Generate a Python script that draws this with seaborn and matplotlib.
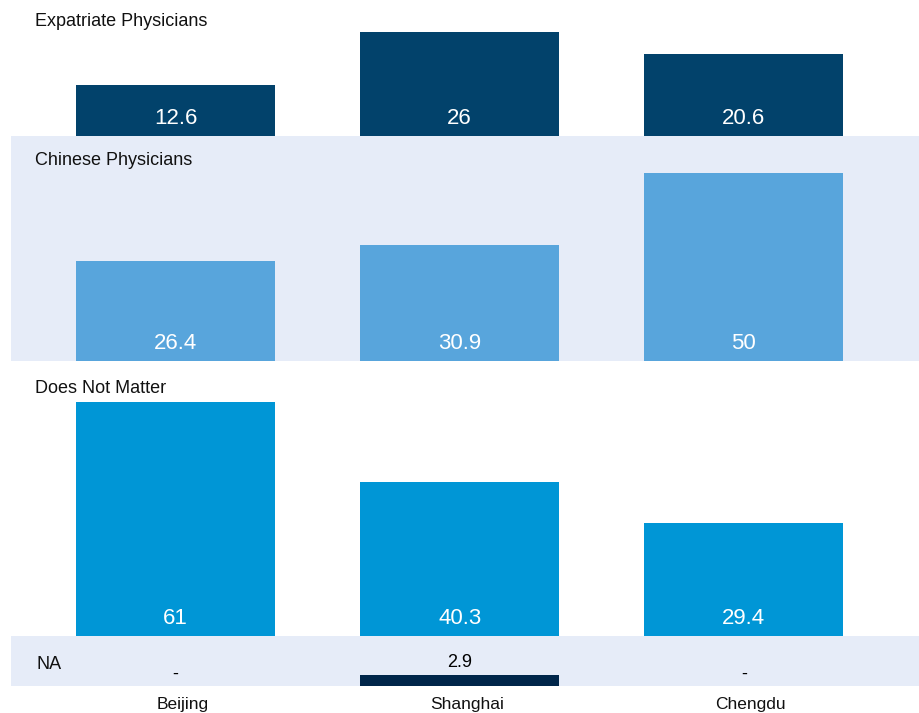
import matplotlib
matplotlib.use("Agg")
import matplotlib.pyplot as plt
import matplotlib.transforms as mtransforms
import seaborn as sns
import pandas as pd

sns.set_style("white")
plt.rcParams['font.family'] = ['Liberation Sans', 'DejaVu Sans']

# ---- data ----
cities = ["Beijing", "Shanghai", "Chengdu"]
row_titles = ["Expatriate Physicians", "Chinese Physicians", "Does Not Matter", "NA"]
expatriate = [12.6, 26, 20.6]
chinese = [26.4, 30.9, 50]
does_not_matter = [61, 40.3, 29.4]
na_values = [None, 2.9, None]

series = [expatriate, chinese, does_not_matter, na_values]
colors = ["#02426b", "#58a5dc", "#0096d6", "#00264a"]
bg_colors = ["white", "#e6ecf8", "white", "#e6ecf8"]

# layout in pixels (top, bottom) of each row panel
W, H = 919, 713
rows_px = [(0, 135.5), (135.5, 361), (361, 636), (636, 686)]
px_per_unit = [3.98, 3.77, 3.83, 3.8]
title_offsets = [13, 16, 19, 20]

fig = plt.figure(figsize=(W / 100, H / 100), dpi=100)

left_px = 11
for r, (vals, (top, bot)) in enumerate(zip(series, rows_px)):
    ax = fig.add_axes([left_px / W, 1 - bot / H, (W - left_px) / W, (bot - top) / H])
    ax.set_facecolor(bg_colors[r])
    plot_vals = [0 if v is None else v for v in vals]
    df = pd.DataFrame({"city": cities, "value": plot_vals})
    sns.barplot(data=df, x="city", y="value", ax=ax, color=colors[r],
                saturation=1, width=0.7, order=cities, linewidth=0, edgecolor="none")
    ax.set_xlim(-0.579, 2.616)
    ax.set_ylim(0, (bot - top) / px_per_unit[r])
    for s in ax.spines.values():
        s.set_visible(False)
    ax.set_ylabel("")
    ax.set_xlabel("")
    ax.set_yticks([])
    ax.tick_params(axis="x", length=0)

    # value labels
    for i, v in enumerate(vals):
        if r < 3:
            ax.annotate(f"{v:g}", xy=(i, 0), xytext=(0, 12 * 0.72),
                        textcoords="offset points", ha="center", va="baseline",
                        color="white", fontsize=16)
        else:
            lab = "-" if v is None else f"{v:g}"
            ax.annotate(lab, xy=(i, 0 if v is None else v), xytext=(0, 7.5 * 0.72),
                        textcoords="offset points", ha="center", va="baseline",
                        color="black", fontsize=13)

    # row title
    ax.annotate(row_titles[r], xy=(0, 1), xycoords="axes fraction",
                xytext=((35 - left_px) * 0.72 if r < 3 else (37 - left_px) * 0.72,
                        -title_offsets[r] * 0.72),
                textcoords="offset points", ha="left", va="top",
                fontsize=13, color="#111111")

    if r < 3:
        ax.set_xticklabels([])
    else:
        ax.tick_params(axis="x", pad=8, labelsize=12.5, labelcolor="#111111")
        offset = mtransforms.ScaledTranslation(7 / 100, 0, fig.dpi_scale_trans)
        for lbl in ax.get_xticklabels():
            lbl.set_transform(lbl.get_transform() + offset)

fig.savefig("out.png", dpi=100, facecolor="white")
